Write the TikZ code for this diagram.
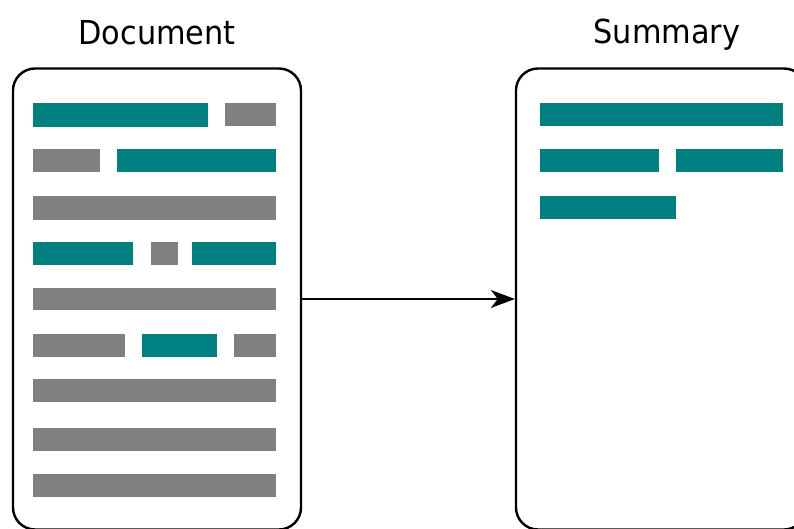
\documentclass[tikz,border=0pt]{standalone}
\usepackage{fontspec}
\setmainfont{DejaVu Sans}
\usetikzlibrary{arrows.meta}
\definecolor{tealbar}{RGB}{0,128,128}
\definecolor{graybar}{RGB}{128,128,128}
\tikzset{
  page/.style={draw=black, line width=2.4pt, rounded corners=22pt, fill=white},
  title/.style={font=\fontsize{33}{36}\selectfont, xscale=0.92, inner sep=0pt},
  tbar/.style={fill=tealbar, draw=none},
  gbar/.style={fill=graybar, draw=none},
  flow/.style={line width=1.4pt, -{Stealth[length=24pt,width=18pt,inset=7pt]}}
}
\begin{document}
\begin{tikzpicture}[x=1pt,y=-1pt]
\useasboundingbox (0,0) rectangle (794,529);
% boxes
\node[page, minimum width=288pt, minimum height=461pt, inner sep=0pt] (doc) at (157,299) {};
\node[page, minimum width=290pt, minimum height=461pt, inner sep=0pt] (sum) at (661,299) {};
% titles
\node[title] (doct) at (157,33) {Document};
\node[title] (sumt) at (667,35) {Summary};
% document bars
\fill[tbar] (33,103) rectangle (208,127);
\fill[gbar] (225,103) rectangle (276,126);
\fill[gbar] (33,149) rectangle (100,172);
\fill[tbar] (117,149) rectangle (276,172);
\fill[gbar] (33,196) rectangle (276,220);
\fill[tbar] (33,242) rectangle (133,265);
\fill[gbar] (151,242) rectangle (178,265);
\fill[tbar] (192,242) rectangle (276,265);
\fill[gbar] (33,288) rectangle (276,310);
\fill[gbar] (33,334) rectangle (125,357);
\fill[tbar] (142,334) rectangle (217,357);
\fill[gbar] (234,334) rectangle (276,357);
\fill[gbar] (33,379) rectangle (276,402);
\fill[gbar] (33,428) rectangle (276,451);
\fill[gbar] (33,474) rectangle (276,497);
% summary bars
\fill[tbar] (540,103) rectangle (783,126);
\fill[tbar] (540,149) rectangle (659,172);
\fill[tbar] (676,149) rectangle (783,172);
\fill[tbar] (540,196) rectangle (676,219);
% arrow
\draw[flow] (doc.east) -- (sum.west);
\end{tikzpicture}
\end{document}
